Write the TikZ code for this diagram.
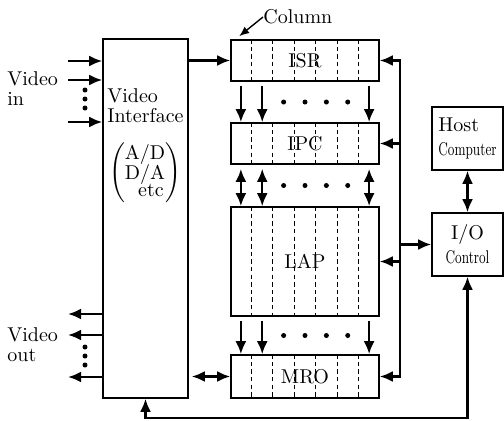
\documentclass[tikz,border=0pt]{standalone}
\usepackage{amsmath}
\usetikzlibrary{arrows.meta, positioning, calc}

\newcommand{\narrow}[1]{\scalebox{0.7}[1]{\fontsize{9.2}{9.2}\selectfont #1}}

\begin{document}
\begin{tikzpicture}[x=0.5pt, y=-0.5pt,
    every node/.style={font=\fontsize{10}{10}\selectfont},
    blk/.style={draw, line width=0.8pt, inner sep=0pt},
    arr/.style={line width=1.2pt, -{Latex[length=6.5pt,width=5.5pt]}},
    darr/.style={line width=1.2pt, {Latex[length=6.5pt,width=5.5pt]}-{Latex[length=6.5pt,width=5.5pt]}},
    coldash/.style={line width=0.45pt, dash pattern=on 2.2pt off 1.6pt}]

    \useasboundingbox (0,0) rectangle (504,420);

    % Blocks
    \node[blk, minimum width=42.5pt, minimum height=179.5pt] (vi) at (145.5,218.5) {};
    \node[blk, minimum width=74pt, minimum height=20.5pt] (isr) at (305,60.5) {ISR};
    \node[blk, minimum width=74pt, minimum height=20.5pt] (ipc) at (305,143.5) {IPC};
    \node[blk, minimum width=74pt, minimum height=54.5pt] (lap) at (305,261.5) {LAP};
    \node[blk, minimum width=74pt, minimum height=21.5pt] (mro) at (305,376.5) {MRO};
    \node[blk, minimum width=35.5pt, minimum height=31.5pt] (host) at (467.5,138.5) {};
    \node[blk, minimum width=35.5pt, minimum height=31.5pt] (io) at (467.5,244.5) {};

    % Block texts
    \node[anchor=north west, align=left, inner sep=0pt] (vitext) at (107,88) {Video\\Interface};
    \node (conv) at (145,173)
        {\renewcommand{\arraystretch}{0.8}%
         $\left(\begin{array}{@{}c@{}}\text{A/D}\\\text{D/A}\\\hspace*{0.6em}\text{etc}\end{array}\right)$};
    \node[align=left, inner sep=0pt] (hosttext) at (host.center)
        {Host\\[2pt]\narrow{Computer}};
    \node[align=center, inner sep=0pt] (iotext) at (io.center)
        {I/O\\[2pt]\narrow{Control}};

    % Column separators
    \foreach \b in {isr,ipc,lap,mro} {
        \foreach \k in {1,...,6} {
            \draw[coldash] ($(\b.north west)!{\k/7}!(\b.north east)$)
                -- ($(\b.south west)!{\k/7}!(\b.south east)$);
        }
    }

    % Arrows between arrays
    \foreach \a/\b/\s in {isr/ipc/arr, ipc/lap/darr, lap/mro/arr} {
        \foreach \k in {0,1,6} {
            \draw[\s, shorten <=2pt] ($(\a.south west)!{(\k+0.5)/7}!(\a.south east)$)
                -- ($(\b.north west)!{(\k+0.5)/7}!(\b.north east)$);
        }
        \foreach \k in {2,...,5} {
            \path ($(\a.south west)!{(\k+0.5)/7}!(\a.south east)$) coordinate (tx)
                  ($(\a.south)!0.5!(\b.north)$) coordinate (my);
            \fill (tx |- my) circle[radius=2.5];
        }
    }

    % Column label
    \node[anchor=west, inner sep=0pt] (collbl) at (263,17) {Column};
    \draw[line width=0.7pt, -{Latex[length=5pt,width=4pt]}] (collbl.west)
        -- ($(isr.north west)+(9,-3)$);

    % Video interface to arrays
    \draw[arr] (vi.east |- isr.west) -- (isr.west);
    \draw[darr, shorten <=1.5pt] (vi.east |- mro.west) -- (mro.west);

    % Control bus
    \coordinate (bus) at (400,0);
    \draw[darr] (isr.east) -- (isr.east -| bus) -- (mro.east -| bus) -- (mro.east);
    \draw[arr] (ipc.east -| bus) -- (ipc.east);
    \draw[arr] (lap.east -| bus) -- (lap.east);
    \draw[arr] (io.west -| bus) -- (io.west);
    \draw[darr] (host.south) -- (io.north);

    % Return line
    \coordinate (loop) at (0,418);
    \draw[darr] (vi.south) -- (vi.south |- loop) -- (io.south |- loop) -- (io.south);

    % Video in / out
    \foreach \y [count=\n] in {61,80,122} {
        \coordinate (vin\n) at (68,\y);
        \draw[arr] (vin\n) -- (vin\n -| vi.west);
    }
    \foreach \y [count=\n] in {314,335,377} {
        \coordinate (vout\n) at (68,\y);
        \draw[arr] (vout\n -| vi.west) -- (vout\n);
    }
    \foreach \y in {90,99,108,347,356,365} {
        \fill (85,\y) circle[radius=2.5];
    }
    \node[anchor=west, align=left, inner sep=0pt] (vinlbl) at (7,88.5) {Video\\in};
    \node[anchor=west, align=left, inner sep=0pt] (voutlbl) at (7,345) {Video\\out};

\end{tikzpicture}
\end{document}
